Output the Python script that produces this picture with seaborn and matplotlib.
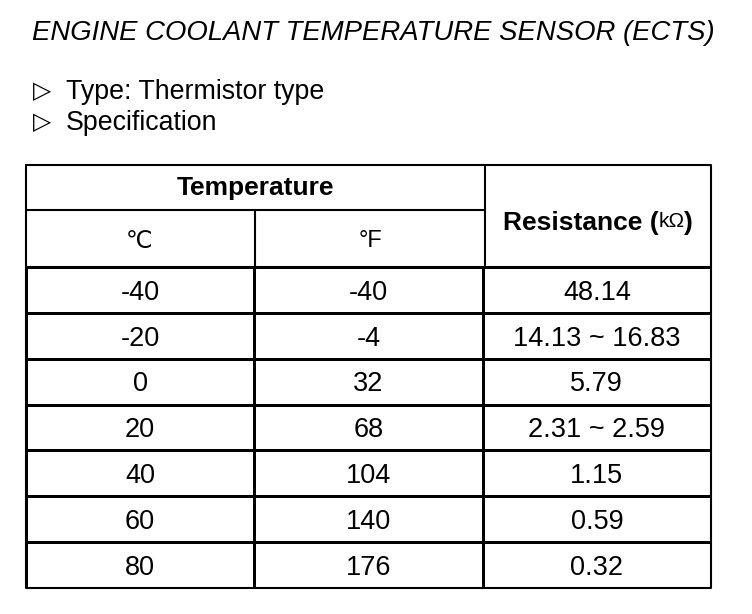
import numpy as np
import matplotlib
matplotlib.use("Agg")
import matplotlib.pyplot as plt
from matplotlib.colors import ListedColormap
import seaborn as sns

title = "ENGINE COOLANT TEMPERATURE SENSOR (ECTS)"
bullets = ["Type: Thermistor type", "Specification"]
celsius = [-40, -20, 0, 20, 40, 60, 80]
fahrenheit = [-40, -4, 32, 68, 104, 140, 176]
resistance = ["48.14", "14.13 ~ 16.83", "5.79", "2.31 ~ 2.59", "1.15", "0.59", "0.32"]

sns.set_theme(style="white")
plt.rcParams["font.family"] = ["Liberation Sans", "DejaVu Sans"]
plt.rcParams["text.color"] = "black"

W, H = 752, 614
fig = plt.figure(figsize=(W / 100, H / 100), dpi=100)
fig.patch.set_facecolor("white")

# table geometry in pixels
left, right = 26, 711
top, mid, head_bot, bottom = 165, 210, 267, 588
col1, col2 = 255, 485

# body of the table drawn as a heatmap of blank cells
body = fig.add_axes([left / W, 1 - bottom / H, (right - left) / W, (bottom - head_bot) / H])
labels = np.array([[str(c), str(f), r] for c, f, r in zip(celsius, fahrenheit, resistance)])
sns.heatmap(np.zeros(labels.shape), ax=body, cmap=ListedColormap(["white"]), cbar=False,
            annot=labels, fmt="", linewidths=1.0, linecolor="black",
            annot_kws={"fontsize": 19.5, "color": "black"})
body.set_xticks([])
body.set_yticks([])
for t in body.texts:
    # nudge the numbers down a little so digits sit in the middle of the cell
    xx, yy = t.get_position()
    t.set_position((xx, yy + 0.06))

# overlay in pixel coordinates for the header and the text above
ax = fig.add_axes([0, 0, 1, 1])
ax.set_xlim(0, W)
ax.set_ylim(H, 0)
ax.axis("off")
ax.patch.set_alpha(0)

ax.text(32, 40, title, fontsize=19.8, fontstyle="italic", va="baseline", ha="left")
for i, b in enumerate(bullets):
    y = 99 + 31 * i
    ax.text(33, y - 1, "\u25b7", fontsize=17, family="DejaVu Sans", va="baseline", ha="left")
    ax.text(66, y, b, fontsize=19.3, va="baseline", ha="left")

lw = 1.5
ax.plot([left, right, right, left, left], [top, top, bottom, bottom, top], color="black", lw=lw)
ax.plot([left, col2], [mid, mid], color="black", lw=lw)
ax.plot([left, right], [head_bot, head_bot], color="black", lw=lw)
ax.plot([col1, col1], [mid, head_bot], color="black", lw=lw)
ax.plot([col2, col2], [top, head_bot], color="black", lw=lw)

ax.text((left + col2) / 2, 188, "Temperature", fontsize=19, fontweight="bold", ha="center", va="center")
ax.text((left + col1) / 2 - 2, 241, "\u2103", fontsize=17, ha="center", va="center",
        family=["DejaVu Sans"])
ax.text((col1 + col2) / 2, 241, "\u00b0F", fontsize=17, ha="center", va="center")

# Resistance (kΩ) with a lighter unit
r = fig.canvas.get_renderer()
parts = [("Resistance (", dict(fontsize=19, fontweight="bold"), 0),
         ("k\u03a9", dict(fontsize=15, fontweight="normal"), -3),
         (")", dict(fontsize=19, fontweight="bold"), 0)]
texts = [ax.text(0, 0, s, ha="left", va="baseline", **kw) for s, kw, _ in parts]
widths = [t.get_window_extent(r).width for t in texts]
x = (col2 + right) / 2 - sum(widths) / 2
for t, w, (_, _, dy) in zip(texts, widths, parts):
    t.set_x(x)
    t.set_y(230 + dy)
    x += w

fig.savefig("out.png", dpi=100)
